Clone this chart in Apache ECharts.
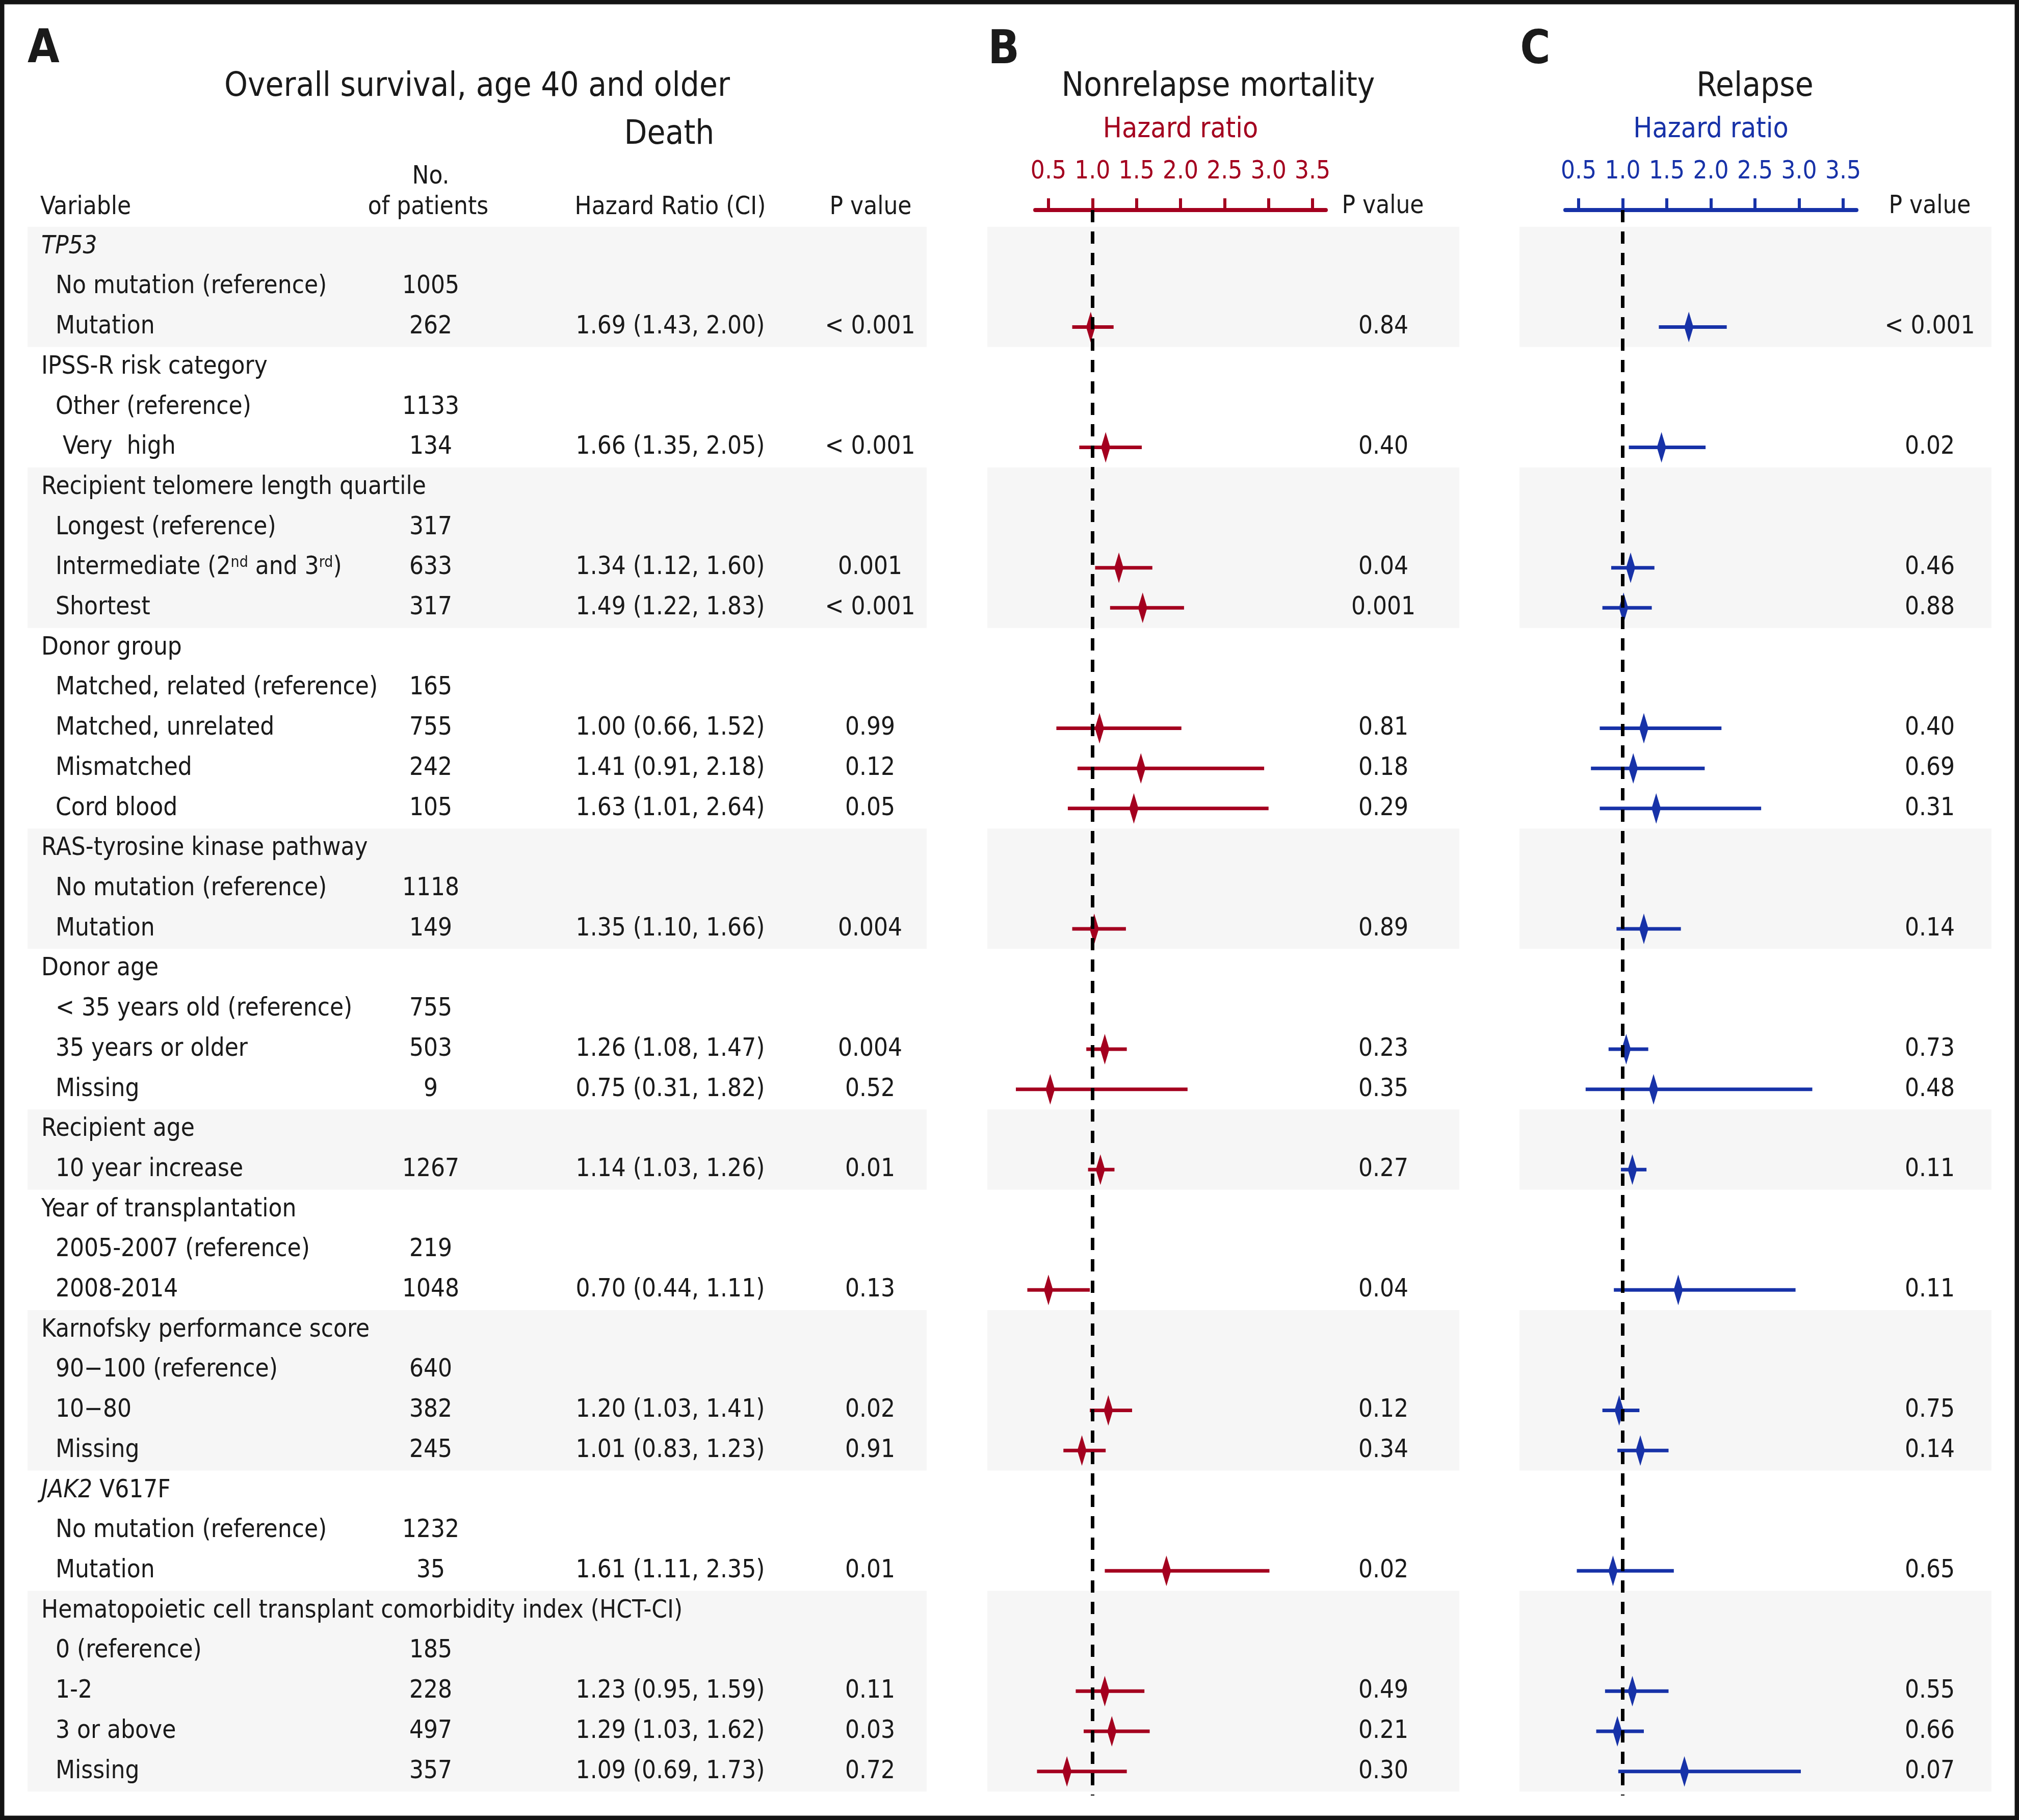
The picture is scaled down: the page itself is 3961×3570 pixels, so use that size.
<!DOCTYPE html>
<html>
<head>
<meta charset="utf-8">
<title>Forest plot</title>
<script src="https://cdn.jsdelivr.net/npm/echarts@6/dist/echarts.min.js"></script>
<style>
  html, body { margin: 0; padding: 0; background: #fff; }
  #chart { width: 3961px; height: 3570px; }
</style>
</head>
<body>
<div id="chart"></div>
<script>
  // table rows, top to bottom (group headings have no patient count)
  const rowLabels = [
    '{i|TP53}', 'No mutation (reference)', 'Mutation',
    'IPSS-R risk category', 'Other (reference)', ' Very  high',
    'Recipient telomere length quartile', 'Longest (reference)', 'Intermediate (2{sup|nd} and 3{sup|rd})', 'Shortest',
    'Donor group', 'Matched, related (reference)', 'Matched, unrelated', 'Mismatched', 'Cord blood',
    'RAS-tyrosine kinase pathway', 'No mutation (reference)', 'Mutation',
    'Donor age', '< 35 years old (reference)', '35 years or older', 'Missing',
    'Recipient age', '10 year increase',
    'Year of transplantation', '2005-2007 (reference)', '2008-2014',
    'Karnofsky performance score', '90\u2212100 (reference)', '10\u221280', 'Missing',
    '{i|JAK2} V617F', 'No mutation (reference)', 'Mutation',
    'Hematopoietic cell transplant comorbidity index (HCT-CI)', '0 (reference)', '1-2', '3 or above', 'Missing'
  ];
  const patients = [
    '', '1005', '262',
    '', '1133', '134',
    '', '317', '633', '317',
    '', '165', '755', '242', '105',
    '', '1118', '149',
    '', '755', '503', '9',
    '', '1267',
    '', '219', '1048',
    '', '640', '382', '245',
    '', '1232', '35',
    '', '185', '228', '497', '357'
  ];
  const deathHR = [
    '', '', '1.69 (1.43, 2.00)',
    '', '', '1.66 (1.35, 2.05)',
    '', '', '1.34 (1.12, 1.60)', '1.49 (1.22, 1.83)',
    '', '', '1.00 (0.66, 1.52)', '1.41 (0.91, 2.18)', '1.63 (1.01, 2.64)',
    '', '', '1.35 (1.10, 1.66)',
    '', '', '1.26 (1.08, 1.47)', '0.75 (0.31, 1.82)',
    '', '1.14 (1.03, 1.26)',
    '', '', '0.70 (0.44, 1.11)',
    '', '', '1.20 (1.03, 1.41)', '1.01 (0.83, 1.23)',
    '', '', '1.61 (1.11, 2.35)',
    '', '', '1.23 (0.95, 1.59)', '1.29 (1.03, 1.62)', '1.09 (0.69, 1.73)'
  ];
  const deathP = [
    '', '', '< 0.001',
    '', '', '< 0.001',
    '', '', '0.001', '< 0.001',
    '', '', '0.99', '0.12', '0.05',
    '', '', '0.004',
    '', '', '0.004', '0.52',
    '', '0.01',
    '', '', '0.13',
    '', '', '0.02', '0.91',
    '', '', '0.01',
    '', '', '0.11', '0.03', '0.72'
  ];
  const headingRows = [0, 3, 6, 10, 15, 18, 22, 24, 27, 31, 34];
  // shaded groups: first and last row
  const shadedGroups = [[0, 2], [6, 9], [15, 17], [22, 23], [27, 30], [34, 38]];

  // rows that carry an estimate in panels B and C
  const effectRows = [2, 5, 8, 9, 12, 13, 14, 17, 20, 21, 23, 26, 29, 30, 33, 36, 37, 38];

  // B: nonrelapse mortality
  const nrmHR   = [0.98, 1.15, 1.30, 1.57, 1.08, 1.55, 1.47, 1.02, 1.14, 0.52, 1.09, 0.50, 1.18, 0.88, 1.84, 1.14, 1.22, 0.71];
  const nrmLow  = [0.77, 0.85, 1.03, 1.20, 0.59, 0.83, 0.72, 0.77, 0.93, 0.13, 0.95, 0.26, 0.97, 0.67, 1.14, 0.81, 0.90, 0.37];
  const nrmHigh = [1.24, 1.56, 1.68, 2.04, 2.01, 2.95, 3.00, 1.38, 1.39, 2.08, 1.25, 0.97, 1.45, 1.15, 3.01, 1.59, 1.65, 1.39];
  const nrmP = ['0.84', '0.40', '0.04', '0.001', '0.81', '0.18', '0.29', '0.89', '0.23', '0.35', '0.27', '0.04', '0.12', '0.34', '0.02', '0.49', '0.21', '0.30'];

  // C: relapse
  const relHR   = [1.75, 1.44, 1.09, 1.01, 1.24, 1.12, 1.38, 1.24, 1.04, 1.35, 1.11, 1.63, 0.96, 1.20, 0.89, 1.11, 0.94, 1.70];
  const relLow  = [1.41, 1.07, 0.87, 0.77, 0.74, 0.64, 0.74, 0.93, 0.84, 0.58, 0.98, 0.90, 0.77, 0.94, 0.48, 0.80, 0.70, 0.95];
  const relHigh = [2.18, 1.94, 1.36, 1.33, 2.12, 1.93, 2.57, 1.66, 1.29, 3.15, 1.27, 2.96, 1.19, 1.52, 1.58, 1.52, 1.24, 3.02];
  const relP = ['< 0.001', '0.02', '0.46', '0.88', '0.40', '0.69', '0.31', '0.14', '0.73', '0.48', '0.11', '0.11', '0.75', '0.14', '0.65', '0.55', '0.66', '0.07'];

  const hrTicks = [0.5, 1.0, 1.5, 2.0, 2.5, 3.0, 3.5];

  const FONT = "'Liberation Sans Narrow', 'DejaVu Sans Condensed', 'Roboto', sans-serif";
  const INK = '#1a1a1a';
  const RED = '#a4001f';
  const BLUE = '#1732a8';
  const BODY = 49;
  const TITLE = 65;

  const RICH = {
    i: { fontStyle: 'italic', fontFamily: FONT, fontSize: BODY, fill: INK, color: INK },
    sup: { fontFamily: FONT, fontSize: 30, verticalAlign: 'top', fill: INK, color: INK }
  };

  // all grids share this row scale
  const GRID_TOP = 412;
  const GRID_H = 3110;
  const rowAxis = (gridIndex) => ({
    gridIndex, type: 'value', inverse: true, min: -0.915, max: 38.6, show: false
  });

  function txt(text, x, y, align, size, color, weight) {
    return {
      type: 'text', x, y,
      style: {
        text, align, textAlign: align, verticalAlign: 'middle', textVerticalAlign: 'middle',
        fontFamily: FONT, fontSize: size, fontWeight: weight || 'normal', fill: color, rich: RICH
      }
    };
  }

  const myChart = echarts.init(document.getElementById('chart'), null, { renderer: 'canvas' });

  const hrAxis = (gridIndex, color) => ({
    gridIndex, type: 'value', position: 'top', min: 0.35, max: 3.65,
    axisLine: { show: true, onZero: false, lineStyle: { color, width: 8 } },
    axisTick: { show: true, inside: false, length: 23, customValues: hrTicks, lineStyle: { color, width: 6 } },
    axisLabel: {
      show: true, customValues: hrTicks, margin: 50, color, fontFamily: FONT, fontSize: BODY,
      formatter: (v) => v.toFixed(1)
    },
    splitLine: { show: false },
    name: 'Hazard ratio', nameLocation: 'middle', nameGap: 130,
    nameTextStyle: { color, fontFamily: FONT, fontSize: 55 }
  });

  const forestItem = (color) => (params, api) => {
    const row = api.value(0);
    const mid = api.coord([api.value(1), row]);
    const lo = api.coord([api.value(2), row]);
    const hi = api.coord([api.value(3), row]);
    return {
      type: 'group',
      children: [
        { type: 'line', shape: { x1: lo[0], y1: lo[1], x2: hi[0], y2: hi[1] }, style: { stroke: color, lineWidth: 7 } },
        {
          type: 'polygon',
          shape: { points: [[mid[0], mid[1] - 30], [mid[0] + 9, mid[1]], [mid[0], mid[1] + 30], [mid[0] - 9, mid[1]]] },
          style: { fill: color }
        }
      ]
    };
  };

  const dashed = {
    silent: true, symbol: 'none', label: { show: false },
    lineStyle: { color: '#000', width: 7, type: [24, 18] },
    data: [{ xAxis: 1 }]
  };

  const options = {
    backgroundColor: '#fff',
    animation: false,
    grid: [
      { left: 0, top: GRID_TOP, width: 3961, height: GRID_H },
      { left: 2031, top: GRID_TOP, width: 570, height: GRID_H },
      { left: 3071, top: GRID_TOP, width: 571, height: GRID_H }
    ],
    xAxis: [
      { gridIndex: 0, type: 'value', min: 0, max: 3961, show: false },
      hrAxis(1, RED),
      hrAxis(2, BLUE)
    ],
    yAxis: [rowAxis(0), rowAxis(1), rowAxis(2)],
    graphic: [
      { type: 'rect', shape: { x: 4, y: 4, width: 3953, height: 3562 }, style: { fill: null, stroke: '#141414', lineWidth: 9 }, z: 100 },
      txt('A', 54, 99, 'left', 90, INK, 'bold'),
      txt('B', 1969, 101, 'center', 90, INK, 'bold'),
      txt('C', 3012, 101, 'center', 90, INK, 'bold'),
      txt('Overall survival, age 40 and older', 936, 171, 'center', TITLE, INK),
      txt('Death', 1313, 265, 'center', TITLE, INK),
      txt('Nonrelapse mortality', 2390, 171, 'center', TITLE, INK),
      txt('Relapse', 3443, 171, 'center', TITLE, INK),
      txt('No.', 845, 347, 'center', BODY, INK),
      txt('of patients', 840, 407, 'center', BODY, INK),
      txt('Variable', 79, 407, 'left', BODY, INK),
      txt('Hazard Ratio (CI)', 1315, 407, 'center', BODY, INK),
      txt('P value', 1708, 407, 'center', BODY, INK),
      txt('P value', 2713, 405, 'center', BODY, INK),
      txt('P value', 3786, 405, 'center', BODY, INK)
    ],
    series: [
      {
        // shaded row groups in all three panels
        type: 'custom', xAxisIndex: 0, yAxisIndex: 0, z: 0, silent: true,
        data: shadedGroups,
        renderItem: (params, api) => {
          const y0 = api.coord([0, api.value(0) - 0.5])[1];
          const y1 = api.coord([0, api.value(1) + 0.5])[1];
          const spans = [[54, 1818], [1937, 2863], [2981, 3907]];
          return {
            type: 'group',
            children: spans.map((s) => ({
              type: 'rect', shape: { x: s[0], y: y0, width: s[1] - s[0], height: y1 - y0 },
              style: { fill: '#f6f6f6' }
            }))
          };
        }
      },
      {
        // table of panel A
        type: 'custom', xAxisIndex: 0, yAxisIndex: 0, z: 3, silent: true,
        data: rowLabels.map((_, i) => [i]),
        renderItem: (params, api) => {
          const i = params.dataIndex;
          const y = api.coord([0, api.value(0)])[1];
          const heading = headingRows.indexOf(i) >= 0;
          const kids = [txt(rowLabels[i], heading ? 81 : 109, y, 'left', BODY, INK)];
          if (patients[i]) kids.push(txt(patients[i], 845, y, 'center', BODY, INK));
          if (deathHR[i]) kids.push(txt(deathHR[i], 1315, y, 'center', BODY, INK));
          if (deathP[i]) kids.push(txt(deathP[i], 1707, y, 'center', BODY, INK));
          return { type: 'group', children: kids };
        }
      },
      {
        // P values of panels B and C
        type: 'custom', xAxisIndex: 0, yAxisIndex: 0, z: 3, silent: true,
        data: effectRows.map((r) => [r]),
        renderItem: (params, api) => {
          const k = params.dataIndex;
          const y = api.coord([0, api.value(0)])[1];
          return {
            type: 'group',
            children: [
              txt(nrmP[k], 2714, y, 'center', BODY, INK),
              txt(relP[k], 3786, y, 'center', BODY, INK)
            ]
          };
        }
      },
      {
        name: 'Nonrelapse mortality',
        type: 'custom', xAxisIndex: 1, yAxisIndex: 1, z: 4, clip: false,
        encode: { x: [1, 2, 3], y: 0 },
        data: effectRows.map((r, k) => [r, nrmHR[k], nrmLow[k], nrmHigh[k]]),
        renderItem: forestItem(RED),
        markLine: dashed
      },
      {
        name: 'Relapse',
        type: 'custom', xAxisIndex: 2, yAxisIndex: 2, z: 4, clip: false,
        encode: { x: [1, 2, 3], y: 0 },
        data: effectRows.map((r, k) => [r, relHR[k], relLow[k], relHigh[k]]),
        renderItem: forestItem(BLUE),
        markLine: dashed
      }
    ]
  };

  myChart.setOption(options);
</script>
</body>
</html>
